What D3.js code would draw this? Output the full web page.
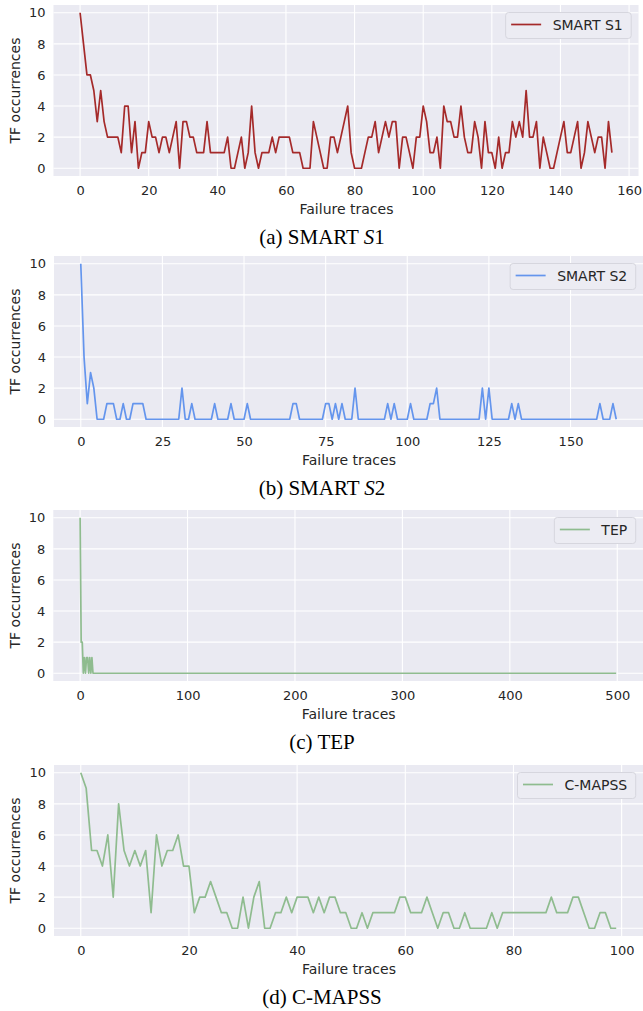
<!DOCTYPE html>
<html>
<head>
<meta charset="utf-8">
<script src="https://cdn.jsdelivr.net/npm/d3@7"></script>
<style>
  body { margin: 0; background: #fff; }
  text { font-family: "DejaVu Sans", sans-serif; fill: #262626; }
  .cap { font-family: "Liberation Serif", "Times New Roman", serif; fill: #000; }
</style>
</head>
<body>
<svg id="fig" width="643" height="1011"></svg>
<script>
// TF occurrences per failure trace
var smartS1 = [
  10,8,6,6,5,3,5,3,2,2, 2,2,1,4,4,1,3,0,1,1, 3,2,2,1,2,2,1,2,3,0, 3,3,2,2,1,1,1,3,1,1,
  1,1,1,2,0,0,1,2,0,1, 4,1,0,1,1,1,2,1,2,2, 2,2,1,1,1,0,0,0,3,2, 1,0,0,2,2,1,2,3,4,1,
  0,0,0,1,2,2,3,1,2,3, 2,3,3,0,2,2,1,0,2,2, 4,3,1,1,2,0,4,3,3,2, 2,4,2,1,1,3,2,0,3,1,
  1,0,2,0,1,1,3,2,3,2, 5,2,2,3,0,2,1,0,0,1, 2,3,1,1,2,3,0,1,3,2, 1,2,2,0,3,1
];
var smartS2 = [
  10,4,1,3,2,0,0,0,1,1, 1,0,0,1,0,0,1,1,1,1, 0,0,0,0,0,0,0,0,0,0, 0,2,0,0,1,0,0,0,0,0,
  0,1,0,0,0,0,1,0,0,0, 0,1,0,0,0,0,0,0,0,0, 0,0,0,0,0,1,1,0,0,0, 0,0,0,0,0,1,1,0,1,0,
  1,0,0,0,2,0,0,0,0,0, 0,0,0,0,1,0,1,0,0,0, 0,1,0,0,0,0,0,1,1,2, 0,0,0,0,0,0,0,0,0,0,
  0,0,0,2,0,2,0,0,0,0, 0,0,1,0,1,0,0,0,0,0, 0,0,0,0,0,0,0,0,0,0, 0,0,0,0,0,0,0,0,0,1,
  0,0,0,1,0
];
var tep = [
  10,2,2,0,1,0,1,1,0,1,0,1,0,
  0,0,0,0,0,0,0,0,0,0, 0,0,0,0,0,0,0,0,0,0, 0,0,0,0,0,0,0,0,0,0, 0,0,0,0,0,0,0,0,0,0, 0,0,0,0,0,0,0,0,0,0,
  0,0,0,0,0,0,0,0,0,0, 0,0,0,0,0,0,0,0,0,0, 0,0,0,0,0,0,0,0,0,0, 0,0,0,0,0,0,0,0,0,0, 0,0,0,0,0,0,0,0,0,0,
  0,0,0,0,0,0,0,0,0,0, 0,0,0,0,0,0,0,0,0,0, 0,0,0,0,0,0,0,0,0,0, 0,0,0,0,0,0,0,0,0,0, 0,0,0,0,0,0,0,0,0,0,
  0,0,0,0,0,0,0,0,0,0, 0,0,0,0,0,0,0,0,0,0, 0,0,0,0,0,0,0,0,0,0, 0,0,0,0,0,0,0,0,0,0, 0,0,0,0,0,0,0,0,0,0,
  0,0,0,0,0,0,0,0,0,0, 0,0,0,0,0,0,0,0,0,0, 0,0,0,0,0,0,0,0,0,0, 0,0,0,0,0,0,0,0,0,0, 0,0,0,0,0,0,0,0,0,0,
  0,0,0,0,0,0,0,0,0,0, 0,0,0,0,0,0,0,0,0,0, 0,0,0,0,0,0,0,0,0,0, 0,0,0,0,0,0,0,0,0,0, 0,0,0,0,0,0,0,0,0,0,
  0,0,0,0,0,0,0,0,0,0, 0,0,0,0,0,0,0,0,0,0, 0,0,0,0,0,0,0,0,0,0, 0,0,0,0,0,0,0,0,0,0, 0,0,0,0,0,0,0,0,0,0,
  0,0,0,0,0,0,0,0,0,0, 0,0,0,0,0,0,0,0,0,0, 0,0,0,0,0,0,0,0,0,0, 0,0,0,0,0,0,0,0,0,0, 0,0,0,0,0,0,0,0,0,0,
  0,0,0,0,0,0,0,0,0,0, 0,0,0,0,0,0,0,0,0,0, 0,0,0,0,0,0,0,0,0,0, 0,0,0,0,0,0,0,0,0,0, 0,0,0,0,0,0,0,0,0,0,
  0,0,0,0,0,0,0,0,0,0, 0,0,0,0,0,0,0,0,0,0, 0,0,0,0,0,0,0,0,0,0, 0,0,0,0,0,0,0
];
var cmapss = [
  10,9,5,5,4,6,2,8,5,4, 5,4,5,1,6,4,5,5,6,4, 4,1,2,2,3,2,1,1,0,0, 2,0,2,3,0,0,1,1,2,1,
  2,2,2,1,2,1,2,2,1,1, 0,0,1,0,1,1,1,1,1,2, 2,1,1,1,2,1,0,1,1,0, 0,1,0,0,0,0,1,0,1,1,
  1,1,1,1,1,1,1,2,1,1, 1,2,2,1,0,0,1,1,0,0
];

var yTicks = [0, 2, 4, 6, 8, 10];
var xTicksS1 = [0, 20, 40, 60, 80, 100, 120, 140, 160];
var xTicksS2 = [0, 25, 50, 75, 100, 125, 150];
var xTicksTep = [0, 100, 200, 300, 400, 500];
var xTicksCmapss = [0, 20, 40, 60, 80, 100];

var seriesNames = ['SMART S1', 'SMART S2', 'TEP', 'C-MAPSS'];
var captions = [['(a) SMART ', 'S', '1'], ['(b) SMART ', 'S', '2'], ['(c) TEP', '', ''], ['(d) C-MAPSS', '', '']];

var panels = [
  { values: smartS1, ticks: xTicksS1, color: '#a52a2a', top: 5, left: 53.5, right: 638.5 },
  { values: smartS2, ticks: xTicksS2, color: '#6495ed', top: 256, left: 54, right: 643 },
  { values: tep, ticks: xTicksTep, color: '#8fbc8f', top: 510, left: 53.3, right: 643 },
  { values: cmapss, ticks: xTicksCmapss, color: '#8fbc8f', top: 765, left: 54, right: 643 }
];

var plotH = 171;
var svg = d3.select('#fig');

panels.forEach(function(p, k) {
  var n = p.values.length;
  var xPad = (n - 1) * 0.05;
  var yMax = d3.max(p.values);
  var x = d3.scaleLinear().domain([-xPad, n - 1 + xPad]).range([p.left, p.right]);
  var y = d3.scaleLinear().domain([-yMax * 0.05, yMax * 1.05]).range([p.top + plotH, p.top]);
  var bottom = p.top + plotH;

  var g = svg.append('g');

  g.append('rect')
    .attr('x', p.left).attr('y', p.top)
    .attr('width', p.right - p.left).attr('height', plotH)
    .attr('fill', '#eaeaf2');

  // grid
  g.selectAll('.vg').data(p.ticks).enter().append('line')
    .attr('x1', function(d) { return x(d); }).attr('x2', function(d) { return x(d); })
    .attr('y1', p.top).attr('y2', bottom)
    .attr('stroke', '#fff').attr('stroke-width', 1.1);
  g.selectAll('.hg').data(yTicks).enter().append('line')
    .attr('x1', p.left).attr('x2', p.right)
    .attr('y1', function(d) { return y(d); }).attr('y2', function(d) { return y(d); })
    .attr('stroke', '#fff').attr('stroke-width', 1.1);

  // axes (labels only)
  var xa = g.append('g').attr('transform', 'translate(0,' + bottom + ')')
    .call(d3.axisBottom(x).tickValues(p.ticks).tickSize(0).tickPadding(10));
  var ya = g.append('g').attr('transform', 'translate(' + p.left + ',0)')
    .call(d3.axisLeft(y).tickValues(yTicks).tickSize(0).tickPadding(8));
  [xa, ya].forEach(function(a) {
    a.select('.domain').remove();
    a.selectAll('text').style('font-family', '"DejaVu Sans", sans-serif').style('font-size', '13px').attr('fill', '#262626');
  });

  g.append('text')
    .attr('x', (p.left + p.right) / 2 + 0.5).attr('y', bottom + 32.5)
    .attr('text-anchor', 'middle').attr('dominant-baseline', 'central')
    .style('font-size', '14px').text('Failure traces');

  g.append('text')
    .attr('transform', 'translate(15,' + (p.top + plotH / 2) + ') rotate(-90)')
    .attr('text-anchor', 'middle').attr('dominant-baseline', 'central')
    .style('font-size', '14px').text('TF occurrences');

  // series line
  var line = d3.line()
    .x(function(d, i) { return x(i); })
    .y(function(d) { return y(d); });
  g.append('path')
    .datum(p.values)
    .attr('d', line)
    .attr('fill', 'none')
    .attr('stroke', p.color)
    .attr('stroke-width', 1.7)
    .attr('stroke-linejoin', 'round');

  // legend
  var lg = g.append('g');
  var lbox = lg.append('rect');
  var ltext = lg.append('text').style('font-size', '14px').attr('dominant-baseline', 'central').text(seriesNames[k]);
  var tw = ltext.node().getComputedTextLength();
  var bw = 5.5 + 30 + 11.5 + tw + 8.5;
  var bx = p.right - 7.3 - bw;
  var by = p.top + 7.5;
  lbox.attr('x', bx).attr('y', by).attr('width', bw).attr('height', 26)
    .attr('rx', 3).attr('fill', '#ececf3').attr('stroke', '#d6d6de').attr('stroke-width', 1);
  lg.append('line')
    .attr('x1', bx + 5.5).attr('x2', bx + 35.5)
    .attr('y1', by + 12).attr('y2', by + 12)
    .attr('stroke', p.color).attr('stroke-width', 1.7);
  ltext.attr('x', bx + 47).attr('y', by + 12.5);

  // caption
  var c = captions[k];
  var ct = svg.append('text').attr('class', 'cap')
    .attr('x', 322).attr('y', bottom + 61)
    .attr('text-anchor', 'middle').attr('dominant-baseline', 'central')
    .style('font-size', '21px');
  ct.append('tspan').text(c[0]);
  if (c[1]) {
    ct.append('tspan').style('font-style', 'italic').text(c[1]);
    ct.append('tspan').text(c[2]);
  }
});
</script>
</body>
</html>
